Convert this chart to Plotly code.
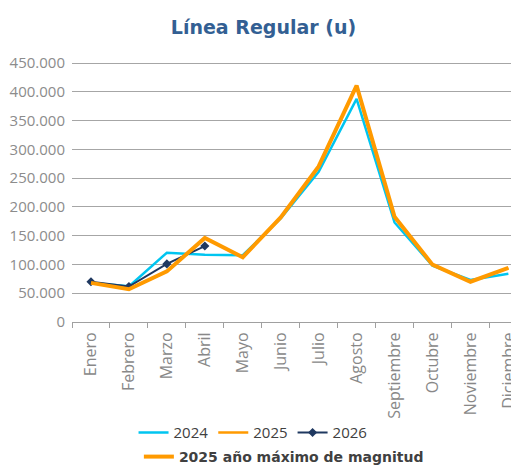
import plotly.graph_objects as go

meses = ["Enero", "Febrero", "Marzo", "Abril", "Mayo", "Junio", "Julio",
         "Agosto", "Septiembre", "Octubre", "Noviembre", "Diciembre"]

v2024 = [68000, 62000, 120500, 117000, 116000, 180000, 261000, 388000, 173000, 98000, 73000, 84000]
v2025 = [68000, 57000, 88000, 146000, 112600, 181700, 270500, 411000, 183000, 99700, 70000, 94000]
v2026 = [70000, 61700, 101000, 132000]

tickvals = [0, 50000, 100000, 150000, 200000, 250000, 300000, 350000, 400000, 450000]
ticktext = ["0", "50.000", "100.000", "150.000", "200.000", "250.000", "300.000", "350.000", "400.000", "450.000"]

fig = go.Figure()
fig.add_trace(go.Scatter(x=meses, y=v2024, name="2024", mode="lines",
                         line=dict(color="#00C5F0", width=2.5)))
fig.add_trace(go.Scatter(x=meses, y=v2025, name="2025", mode="lines",
                         line=dict(color="#FF9A00", width=2.5)))
fig.add_trace(go.Scatter(x=meses[:4], y=v2026, name="2026", mode="lines+markers",
                         line=dict(color="#1F3860", width=2),
                         marker=dict(symbol="diamond", size=7, color="#1F3860")))
fig.add_trace(go.Scatter(x=meses, y=v2025, name="<b>2025 año máximo de magnitud</b>", mode="lines",
                         line=dict(color="#FF9A00", width=4), legend="legend2"))

# the page adds an 8px body margin, so the figure is sized and placed to make up for it
fig.update_layout(
    width=511, height=465,
    margin=dict(l=64, r=0, t=54, b=146),
    paper_bgcolor="white", plot_bgcolor="white",
    font=dict(family="Open Sans", color="#888888", size=13),
    title=dict(text="<b>Línea Regular (u)</b>", x=0.5, xanchor="center", y=0.959, yanchor="middle",
               font=dict(family="DejaVu Sans", size=19, color="#335F93")),
    xaxis=dict(range=[-0.5, 11.28], showgrid=False, ticks="outside", tickson="boundaries",
               ticklen=5, tickcolor="#A0A0A0", showline=True, linecolor="#A0A0A0", linewidth=1,
               tickangle=-90, automargin=False, ticklabelstandoff=3,
               tickfont=dict(size=16, color="#888888")),
    yaxis=dict(range=[0, 452000], tickvals=tickvals, ticktext=ticktext, showgrid=True,
               gridcolor="#A6A6A6", gridwidth=1, zeroline=False, ticks="", ticklabelstandoff=6,
               automargin=False, tickfont=dict(size=15, color="#8C8C8C")),
    legend=dict(orientation="h", x=0.405, xanchor="center", y=-0.426, yanchor="middle",
                font=dict(size=15, color="#404040"), bgcolor="rgba(0,0,0,0)"),
    legend2=dict(orientation="h", x=0.474, xanchor="center", y=-0.521, yanchor="middle",
                 font=dict(family="DejaVu Sans", size=14, color="#404040"), bgcolor="rgba(0,0,0,0)"),
)

fig.write_html("out.html")
